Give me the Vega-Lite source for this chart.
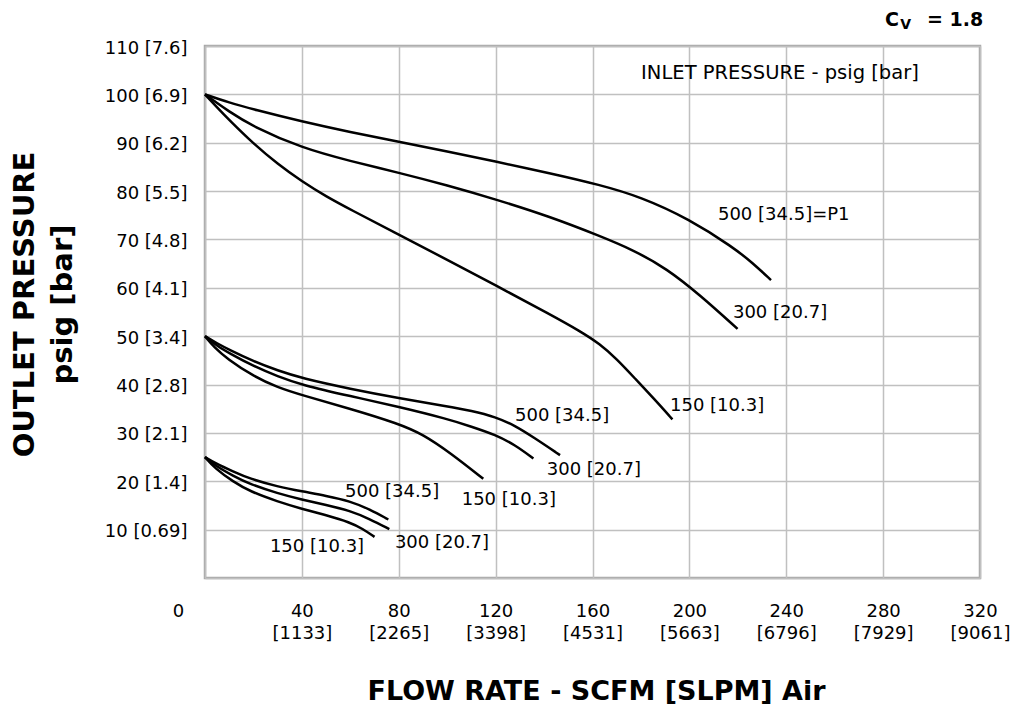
{
  "$schema": "https://vega.github.io/schema/vega-lite/v6.json",
  "width": 775,
  "height": 532,
  "autosize": {"type": "none"},
  "padding": {"left": 205, "top": 46, "right": 37, "bottom": 135},
  "background": "white",
  "config": {"view": {"stroke": "#a8a8a8", "strokeWidth": 2.5}, "font": "DejaVu Sans"},
  "datasets": {
    "curves": [
      {"series": "U500", "flow": 0, "pressure": 100}, {"series": "U500", "flow": 10, "pressure": 98.3}, {"series": "U500", "flow": 20, "pressure": 96.9}, {"series": "U500", "flow": 40, "pressure": 94.4}, {"series": "U500", "flow": 60, "pressure": 92.2}, {"series": "U500", "flow": 80, "pressure": 90.2}, {"series": "U500", "flow": 100, "pressure": 88.2}, {"series": "U500", "flow": 120, "pressure": 86.1}, {"series": "U500", "flow": 142.5, "pressure": 83.7}, {"series": "U500", "flow": 163, "pressure": 81.3}, {"series": "U500", "flow": 180, "pressure": 78.8}, {"series": "U500", "flow": 200, "pressure": 74.2}, {"series": "U500", "flow": 218, "pressure": 68.4}, {"series": "U500", "flow": 226, "pressure": 65.2}, {"series": "U500", "flow": 233.7, "pressure": 61.6},
      {"series": "U300", "flow": 0, "pressure": 100}, {"series": "U300", "flow": 10, "pressure": 96.4}, {"series": "U300", "flow": 20, "pressure": 93.3}, {"series": "U300", "flow": 40, "pressure": 88.9}, {"series": "U300", "flow": 60, "pressure": 86.2}, {"series": "U300", "flow": 80, "pressure": 83.8}, {"series": "U300", "flow": 100, "pressure": 81.2}, {"series": "U300", "flow": 120, "pressure": 78.3}, {"series": "U300", "flow": 142.5, "pressure": 74.7}, {"series": "U300", "flow": 163.1, "pressure": 70.7}, {"series": "U300", "flow": 176.9, "pressure": 67.8}, {"series": "U300", "flow": 190.6, "pressure": 64.0}, {"series": "U300", "flow": 204.4, "pressure": 58.5}, {"series": "U300", "flow": 219.9, "pressure": 51.5},
      {"series": "U150", "flow": 0, "pressure": 100}, {"series": "U150", "flow": 5, "pressure": 97.3}, {"series": "U150", "flow": 10, "pressure": 94.7}, {"series": "U150", "flow": 20, "pressure": 89.8}, {"series": "U150", "flow": 30, "pressure": 85.6}, {"series": "U150", "flow": 40, "pressure": 82.0}, {"series": "U150", "flow": 50, "pressure": 78.9}, {"series": "U150", "flow": 60, "pressure": 76.2}, {"series": "U150", "flow": 80, "pressure": 71.0}, {"series": "U150", "flow": 100, "pressure": 65.8}, {"series": "U150", "flow": 120, "pressure": 60.5}, {"series": "U150", "flow": 142.5, "pressure": 54.5}, {"series": "U150", "flow": 155, "pressure": 51.0}, {"series": "U150", "flow": 163, "pressure": 48.4}, {"series": "U150", "flow": 170, "pressure": 45.3}, {"series": "U150", "flow": 178, "pressure": 41.0}, {"series": "U150", "flow": 185.5, "pressure": 37.0}, {"series": "U150", "flow": 193, "pressure": 32.8},
      {"series": "M500", "flow": 0, "pressure": 50}, {"series": "M500", "flow": 5, "pressure": 48.5}, {"series": "M500", "flow": 10, "pressure": 47.2}, {"series": "M500", "flow": 20, "pressure": 44.8}, {"series": "M500", "flow": 30, "pressure": 42.9}, {"series": "M500", "flow": 40, "pressure": 41.3}, {"series": "M500", "flow": 60, "pressure": 39.1}, {"series": "M500", "flow": 80, "pressure": 37.2}, {"series": "M500", "flow": 100, "pressure": 35.5}, {"series": "M500", "flow": 110, "pressure": 34.6}, {"series": "M500", "flow": 120, "pressure": 33.3}, {"series": "M500", "flow": 128, "pressure": 31.5}, {"series": "M500", "flow": 135.6, "pressure": 29.1}, {"series": "M500", "flow": 146.6, "pressure": 25.4},
      {"series": "M300", "flow": 0, "pressure": 50}, {"series": "M300", "flow": 5, "pressure": 48.0}, {"series": "M300", "flow": 10, "pressure": 46.5}, {"series": "M300", "flow": 20, "pressure": 43.8}, {"series": "M300", "flow": 30, "pressure": 41.7}, {"series": "M300", "flow": 40, "pressure": 39.9}, {"series": "M300", "flow": 60, "pressure": 37.6}, {"series": "M300", "flow": 80, "pressure": 35.4}, {"series": "M300", "flow": 100, "pressure": 32.9}, {"series": "M300", "flow": 110, "pressure": 31.3}, {"series": "M300", "flow": 120, "pressure": 29.6}, {"series": "M300", "flow": 128, "pressure": 27.5}, {"series": "M300", "flow": 135.6, "pressure": 24.7},
      {"series": "M150", "flow": 0, "pressure": 50}, {"series": "M150", "flow": 4, "pressure": 47.6}, {"series": "M150", "flow": 9, "pressure": 45.4}, {"series": "M150", "flow": 20, "pressure": 41.7}, {"series": "M150", "flow": 30, "pressure": 39.4}, {"series": "M150", "flow": 40, "pressure": 37.8}, {"series": "M150", "flow": 60, "pressure": 35.0}, {"series": "M150", "flow": 80, "pressure": 31.9}, {"series": "M150", "flow": 90, "pressure": 29.7}, {"series": "M150", "flow": 101.2, "pressure": 25.9}, {"series": "M150", "flow": 114.9, "pressure": 20.5},
      {"series": "L500", "flow": 0, "pressure": 25}, {"series": "L500", "flow": 4, "pressure": 23.8}, {"series": "L500", "flow": 11.7, "pressure": 22.0}, {"series": "L500", "flow": 18.6, "pressure": 20.5}, {"series": "L500", "flow": 30, "pressure": 18.9}, {"series": "L500", "flow": 40, "pressure": 17.9}, {"series": "L500", "flow": 50, "pressure": 17.0}, {"series": "L500", "flow": 59.9, "pressure": 15.9}, {"series": "L500", "flow": 68, "pressure": 14.2}, {"series": "L500", "flow": 75.7, "pressure": 12.1},
      {"series": "L300", "flow": 0, "pressure": 25}, {"series": "L300", "flow": 4, "pressure": 23.3}, {"series": "L300", "flow": 11.7, "pressure": 21.1}, {"series": "L300", "flow": 18.6, "pressure": 19.4}, {"series": "L300", "flow": 30, "pressure": 17.5}, {"series": "L300", "flow": 40, "pressure": 16.2}, {"series": "L300", "flow": 50, "pressure": 15.1}, {"series": "L300", "flow": 59.9, "pressure": 13.9}, {"series": "L300", "flow": 68, "pressure": 12.2}, {"series": "L300", "flow": 76.1, "pressure": 10.1},
      {"series": "L150", "flow": 0, "pressure": 25}, {"series": "L150", "flow": 4, "pressure": 22.7}, {"series": "L150", "flow": 11.7, "pressure": 19.9}, {"series": "L150", "flow": 18.6, "pressure": 17.9}, {"series": "L150", "flow": 30, "pressure": 15.8}, {"series": "L150", "flow": 40, "pressure": 14.3}, {"series": "L150", "flow": 50, "pressure": 13.0}, {"series": "L150", "flow": 59.9, "pressure": 11.5}, {"series": "L150", "flow": 65, "pressure": 10.2}, {"series": "L150", "flow": 70, "pressure": 8.5}
    ],
    "notes": [
      {"kind": "label", "label": "500 [34.5]=P1", "flow": 211.8, "pressure": 75.1},
      {"kind": "label", "label": "300 [20.7]", "flow": 218, "pressure": 54.8},
      {"kind": "label", "label": "150 [10.3]", "flow": 192, "pressure": 35.6},
      {"kind": "label", "label": "500 [34.5]", "flow": 128, "pressure": 33.5},
      {"kind": "label", "label": "300 [20.7]", "flow": 141.1, "pressure": 22.3},
      {"kind": "label", "label": "150 [10.3]", "flow": 106, "pressure": 16.1},
      {"kind": "label", "label": "500 [34.5]", "flow": 57.8, "pressure": 17.8},
      {"kind": "label", "label": "300 [20.7]", "flow": 78.4, "pressure": 7.2},
      {"kind": "label", "label": "150 [10.3]", "flow": 26.8, "pressure": 6.4},
      {"kind": "heading", "label": "INLET PRESSURE - psig [bar]", "flow": 237.4, "pressure": 104.5},
      {"kind": "cv", "label": "C", "flow": 283.6, "pressure": 115.4},
      {"kind": "cvsub", "label": "V", "flow": 289.3, "pressure": 114.3},
      {"kind": "cv", "label": "= 1.8", "flow": 309.7, "pressure": 115.4}
    ]
  },
  "encoding": {
    "x": {
      "field": "flow", "type": "quantitative",
      "scale": {"domain": [0, 320], "nice": false, "zero": false},
      "axis": {
        "values": [0, 40, 80, 120, 160, 200, 240, 280, 320],
        "title": "FLOW RATE - SCFM [SLPM] Air",
        "titleFont": "DejaVu Sans", "titleFontWeight": "bold", "titleFontSize": 27, "titleColor": "black",
        "titleX": 391, "titleY": 121, "titleAlign": "center", "titleBaseline": "alphabetic",
        "domain": false, "ticks": false, "tickSize": 0,
        "grid": true, "gridColor": "#c0c0c0", "gridWidth": 1.5,
        "labelFont": "DejaVu Sans", "labelFontSize": 18, "labelColor": "black",
        "labelPadding": 24, "labelLineHeight": 22, "labelBaseline": "top", "labelAlign": "center",
        "labelOffset": {"condition": {"test": "datum.value == 0", "value": -27}, "value": 0},
        "labelOverlap": false, "labelFlush": false, "labelBound": false,
        "labelExpr": "datum.value == 0 ? '0' : [format(datum.value, 'd'), '[' + ['', '1133', '2265', '3398', '4531', '5663', '6796', '7929', '9061'][round(datum.value / 40)] + ']']"
      }
    },
    "y": {
      "field": "pressure", "type": "quantitative",
      "scale": {"domain": [0, 110], "nice": false, "zero": false},
      "axis": {
        "values": [0, 10, 20, 30, 40, 50, 60, 70, 80, 90, 100, 110],
        "title": ["OUTLET PRESSURE", "psig [bar]"],
        "titleFont": "DejaVu Sans", "titleFontWeight": "bold", "titleFontSize": 29, "titleColor": "black",
        "titleAngle": -90, "titleX": -195, "titleY": 258, "titleAlign": "center", "titleBaseline": "top", "titleLineHeight": 38,
        "domain": false, "ticks": false, "tickSize": 0,
        "grid": true, "gridColor": "#c0c0c0", "gridWidth": 1.5,
        "labelFont": "DejaVu Sans", "labelFontSize": 18, "labelColor": "black",
        "labelPadding": 18, "labelOffset": 2, "labelOverlap": false, "labelFlush": false, "labelBound": false,
        "labelExpr": "datum.value == 0 ? '' : datum.value + ' [' + ['', '0.69', '1.4', '2.1', '2.8', '3.4', '4.1', '4.8', '5.5', '6.2', '6.9', '7.6'][round(datum.value / 10)] + ']'"
      }
    }
  },
  "layer": [
    {
      "data": {"name": "curves"},
      "mark": {"type": "line", "color": "black", "strokeWidth": 2.5, "interpolate": "basis"},
      "encoding": {"detail": {"field": "series"}, "order": {"field": "flow"}}
    },
    {
      "data": {"name": "notes"},
      "transform": [{"filter": "datum.kind == 'label'"}],
      "mark": {"type": "text", "align": "left", "baseline": "middle", "font": "DejaVu Sans", "fontSize": 18, "color": "black"},
      "encoding": {"text": {"field": "label"}}
    },
    {
      "data": {"name": "notes"},
      "transform": [{"filter": "datum.kind == 'heading'"}],
      "mark": {"type": "text", "align": "center", "baseline": "middle", "font": "DejaVu Sans", "fontSize": 19.5, "color": "black"},
      "encoding": {"text": {"field": "label"}}
    },
    {
      "data": {"name": "notes"},
      "transform": [{"filter": "datum.kind == 'cv'"}],
      "mark": {"type": "text", "align": "center", "baseline": "middle", "font": "DejaVu Sans", "fontWeight": "bold", "fontSize": 19, "color": "black", "clip": false},
      "encoding": {"text": {"field": "label"}}
    },
    {
      "data": {"name": "notes"},
      "transform": [{"filter": "datum.kind == 'cvsub'"}],
      "mark": {"type": "text", "align": "center", "baseline": "middle", "font": "DejaVu Sans", "fontWeight": "bold", "fontSize": 14, "color": "black", "clip": false},
      "encoding": {"text": {"field": "label"}}
    }
  ]
}
